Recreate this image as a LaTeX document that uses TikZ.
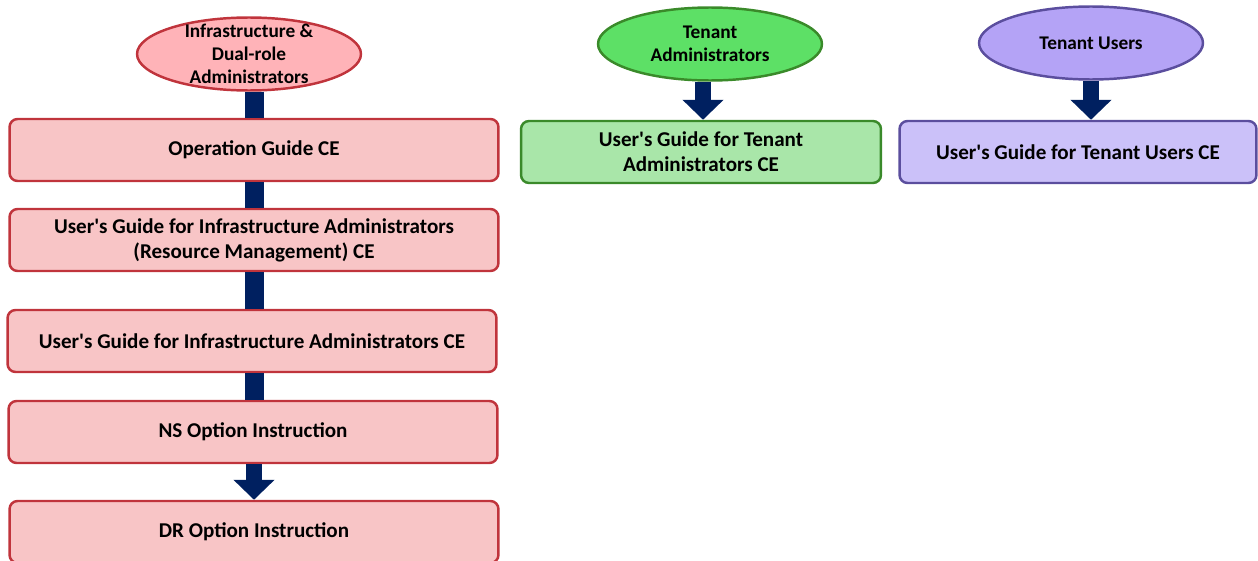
\documentclass[tikz,border=0pt]{standalone}
\usepackage{fontspec}
\setmainfont{Carlito}[Ligatures=TeXOff]
\usetikzlibrary{shapes.geometric,arrows.meta}
\definecolor{gRed}{HTML}{C0343C}
\definecolor{gRedFill}{HTML}{F8C5C6}
\definecolor{gRedRole}{HTML}{FFB3B8}
\definecolor{gGreen}{HTML}{3A8A2A}
\definecolor{gGreenFill}{HTML}{A9E6A9}
\definecolor{gGreenRole}{HTML}{5DE066}
\definecolor{gPurple}{HTML}{5B4E9E}
\definecolor{gPurpleFill}{HTML}{CBC1F9}
\definecolor{gPurpleRole}{HTML}{B4A3F6}
\definecolor{gNavy}{HTML}{002060}

\begin{document}
\begin{tikzpicture}[x=0.02cm,y=-0.02cm,>=Triangle]
		\tikzstyle{BOX} = [rounded corners=0.16cm, line width=1.4pt, minimum height=1.24cm, align=center, font=\fontsize{12}{14.2}\selectfont\bfseries]
		\tikzstyle{ROLE} = [ellipse, line width=1.4pt, minimum width=4.48cm, minimum height=1.46cm, inner sep=0pt, align=center, font=\fontsize{11}{13}\selectfont\bfseries]
		\tikzstyle{infra} = [BOX, draw=gRed, fill=gRedFill, minimum width=9.78cm]
		\tikzstyle{tadm} = [BOX, draw=gGreen, fill=gGreenFill, minimum width=7.2cm]
		\tikzstyle{tusr} = [BOX, draw=gPurple, fill=gPurpleFill, minimum width=7.14cm]
		\tikzstyle{bar} = [draw=gNavy, line width=0.38cm]
		\tikzstyle{barhead} = [draw=gNavy, line width=0.32cm, -{Triangle[width=0.8cm,length=0.4cm]}]
		\useasboundingbox (0,0) rectangle (1258,561);

		% roles
		\node[ROLE, draw=gRed, fill=gRedRole, label={[align=center, font=\fontsize{11}{13}\selectfont\bfseries]center:Infrastructure \&\\Dual-role\\Administrators}] (rInfra) at (249,54) {};
		\node[ROLE, draw=gGreen, fill=gGreenRole] (rTenAdm) at (710,44) {Tenant\\Administrators};
		\node[ROLE, draw=gPurple, fill=gPurpleRole] (rTenUsr) at (1091,43) {Tenant Users};

		% manuals
		\node[infra] (dOper) at 	(254,150) {Operation Guide CE};
		\node[infra] (dResMgmt) at 	(254,240) {User's Guide for Infrastructure Administrators\\(Resource Management) CE};
		\node[infra] (dInfra) at 	(252,341) {User's Guide for Infrastructure Administrators CE};
		\node[infra] (dNS) at 		(253,432) {NS Option Instruction};
		\node[infra] (dDR) at 		(254,532) {DR Option Instruction};
		\node[tadm] (dTenAdm) at 	(701,152) {User's Guide for Tenant\\Administrators CE};
		\node[tusr] (dTenUsr) at 	(1078,152) {User's Guide for Tenant Users CE};

		\draw[bar] (rInfra.south -| dOper.north) -- (dOper.north);
		\draw[bar] (dOper.south) -- (dResMgmt.north);
		\draw[bar] (dResMgmt.south) -- (dResMgmt.south |- dInfra.north);
		\draw[bar] (dResMgmt.south |- dInfra.south) -- (dResMgmt.south |- dNS.north);
		\draw[barhead] (dResMgmt.south |- dNS.south) -- (dResMgmt.south |- dDR.north);
		\draw[barhead] (rTenAdm.south -| 703,0) -- (dTenAdm.north -| 703,0);
		\draw[barhead] (rTenUsr.south) -- (rTenUsr.south |- dTenUsr.north);
\end{tikzpicture}
\end{document}
